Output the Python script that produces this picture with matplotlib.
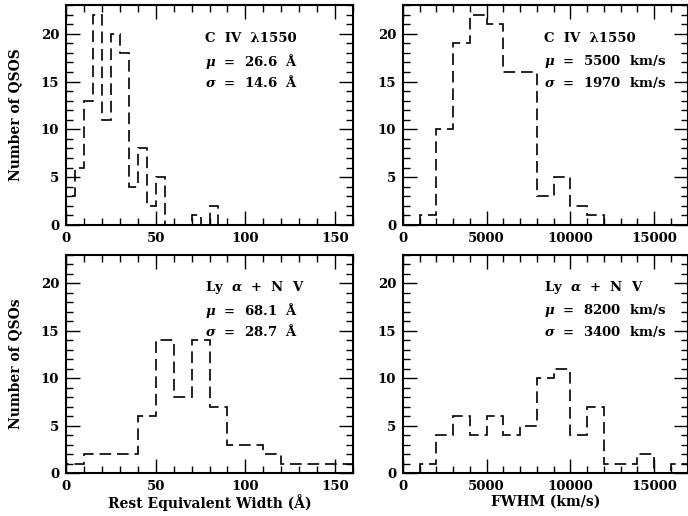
import numpy as np
import matplotlib
matplotlib.use("Agg")
import matplotlib.pyplot as plt
from matplotlib.ticker import MultipleLocator

plt.rcParams['font.family'] = ['DejaVu Serif']
plt.rcParams['font.weight'] = 'bold'
plt.rcParams['mathtext.fontset'] = 'custom'
plt.rcParams['mathtext.it'] = 'DejaVu Serif:italic:bold'
plt.rcParams['mathtext.rm'] = 'DejaVu Serif:bold'

# ---- data ----
civ_ew_start, civ_ew_width = 0, 5
civ_ew_counts = [3, 6, 13, 22, 11, 20, 18, 4, 8, 2, 5, 0, 0, 0, 1, 0, 2, 0]

civ_fwhm_start, civ_fwhm_width = 0, 1000
civ_fwhm_counts = [0, 1, 10, 19, 22, 21, 16, 16, 3, 5, 2, 1, 0, 0, 0, 0, 0]

lya_ew_start, lya_ew_width = 0, 10
lya_ew_counts = [1, 2, 2, 2, 6, 14, 8, 14, 7, 3, 3, 2, 1, 1, 1, 1]

lya_fwhm_start, lya_fwhm_width = 0, 1000
lya_fwhm_counts = [0, 1, 4, 6, 4, 6, 4, 5, 10, 11, 4, 7, 1, 1, 2, 0, 1]

labels = [
    ["C  IV  \u03bb1550", "$\\mu$  =  26.6  \u00c5", "$\\sigma$  =  14.6  \u00c5"],
    ["C  IV  \u03bb1550", "$\\mu$  =  5500  km/s", "$\\sigma$  =  1970  km/s"],
    ["Ly  $\\alpha$  +  N  V", "$\\mu$  =  68.1  \u00c5", "$\\sigma$  =  28.7  \u00c5"],
    ["Ly  $\\alpha$  +  N  V", "$\\mu$  =  8200  km/s", "$\\sigma$  =  3400  km/s"],
]

fig = plt.figure(figsize=(6.88, 5.16), dpi=100)
W, H = 688, 516

def add_ax(l, r, t, b):
    return fig.add_axes([l / W, 1 - b / H, (r - l) / W, (b - t) / H])

ax1 = add_ax(66, 353, 5, 225)
ax2 = add_ax(403, 687.5, 5, 225)
ax3 = add_ax(66, 353, 255, 473)
ax4 = add_ax(403, 687.5, 255, 473)

panels = [
    (ax1, civ_ew_start, civ_ew_width, civ_ew_counts, 160, 50, 10),
    (ax2, civ_fwhm_start, civ_fwhm_width, civ_fwhm_counts, 17000, 5000, 1000),
    (ax3, lya_ew_start, lya_ew_width, lya_ew_counts, 160, 50, 10),
    (ax4, lya_fwhm_start, lya_fwhm_width, lya_fwhm_counts, 17000, 5000, 1000),
]

for i, (ax, start, width, counts, xmax, xmaj, xmin_) in enumerate(panels):
    edges = start + width * np.arange(len(counts) + 1)
    ax.stairs(counts, edges, baseline=0, fill=False, color='black',
              linewidth=1.2, linestyle=(0, (7, 3.5)))
    ax.set_xlim(0, xmax)
    ax.set_ylim(0, 23)
    ax.xaxis.set_major_locator(MultipleLocator(xmaj))
    ax.xaxis.set_minor_locator(MultipleLocator(xmin_))
    ax.yaxis.set_major_locator(MultipleLocator(5))
    ax.yaxis.set_minor_locator(MultipleLocator(1))
    ax.tick_params(which='both', direction='in', top=True, right=True,
                   width=1.0, labelsize=9.5, color='black')
    ax.tick_params(which='major', length=10, pad=5)
    ax.tick_params(which='minor', length=5)
    for lab in ax.get_xticklabels() + ax.get_yticklabels():
        lab.set_fontweight('bold')
    for s in ax.spines.values():
        s.set_linewidth(1.5)
    xf = 0.484 if i in (0, 2) else 0.495
    for txt, yf in zip(labels[i], [0.85, 0.745, 0.65]):
        ax.text(xf, yf, txt, transform=ax.transAxes, fontsize=9.5,
                fontweight='bold', ha='left', va='center')

ax1.set_ylabel("Number of QSOS", fontsize=10, fontweight='bold', labelpad=13)
ax3.set_ylabel("Number of QSOs", fontsize=10, fontweight='bold', labelpad=13)
ax3.set_xlabel("Rest Equivalent Width (\u00c5)", fontsize=10, fontweight='bold', labelpad=1)
ax4.set_xlabel("FWHM (km/s)", fontsize=10, fontweight='bold', labelpad=1)

fig.savefig("out.png", dpi=100)
